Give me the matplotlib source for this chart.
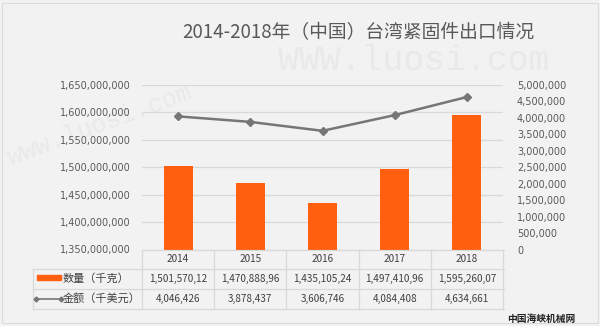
import matplotlib
matplotlib.use("Agg")
import matplotlib.pyplot as plt
from matplotlib.ticker import FuncFormatter, MultipleLocator
from matplotlib.transforms import blended_transform_factory
from matplotlib.lines import Line2D
from matplotlib.patches import Rectangle

# donnees
years = ['2014', '2015', '2016', '2017', '2018']
qty = [1501570120, 1470888960, 1435105240, 1497410960, 1595260070]
qty_labels = ['1,501,570,12', '1,470,888,96', '1,435,105,24', '1,497,410,96', '1,595,260,07']
amount = [4046426, 3878437, 3606746, 4084408, 4634661]
row_names = ['数量（千克）', '金额（千美元）']
title = '2014-2018年（中国）台湾紧固件出口情况'
source = '中国海峡机械网'
watermark = 'www.luosi.com'

W, H = 600, 326
bg = '#f2f2f2'
orange = '#ff5f0f'
gray_line = '#767676'
grid_c = '#d9d9d9'
txt_c = '#595959'
cjk = ['Noto Sans CJK SC', 'DejaVu Sans']

fig = plt.figure(figsize=(W / 100, H / 100), dpi=100, facecolor=bg)

def fx(x):
    return x / W

def fy(y):
    return 1 - y / H

# zone du graphe en pixels
L, R, T, B = 142, 503, 85, 249.5
ax = fig.add_axes([fx(L), fy(B), fx(R - L), (B - T) / H])
ax.set_facecolor('none')
ax2 = ax.twinx()

def ay(y):
    # pixel y -> coordonnee axes
    return (B - y) / (B - T)

def axx(x):
    return (x - L) / (R - L)

xs = list(range(len(years)))
ax.bar(xs, qty, width=0.4, color=orange, zorder=2)
ax.set_ylim(1350000000, 1650000000)
ax.set_xlim(-0.5, len(years) - 0.5)
ax.yaxis.set_major_locator(MultipleLocator(50000000))
ax.grid(axis='y', color=grid_c, lw=0.9, zorder=0)
ax.set_axisbelow(True)

ax2.plot(xs, amount, color=gray_line, lw=1.8, marker='D', ms=4, zorder=3)
ax2.set_ylim(0, 5000000)
ax2.yaxis.set_major_locator(MultipleLocator(500000))

fmt = FuncFormatter(lambda v, p: '{:,.0f}'.format(v))
for a, pad in ((ax, 8), (ax2, 10)):
    a.yaxis.set_major_formatter(fmt)
    a.tick_params(axis='y', length=0, pad=pad, labelsize=7, labelcolor=txt_c)
    a.set_xticks([])
    for s in a.spines.values():
        s.set_visible(False)

# tableau sous le graphe
tr = blended_transform_factory(ax.transData, ax.transAxes)
rows_y = [250, 269, 289, 309]
leg_left = 33
for y in rows_y:
    x0 = axx(L) if y == rows_y[0] else axx(leg_left)
    ax.plot([x0, 1.0025], [ay(y), ay(y)], transform=ax.transAxes, color=grid_c, lw=0.9, clip_on=False)
for i in range(len(years) + 1):
    ax.plot([i - 0.5, i - 0.5], [ay(rows_y[0]), ay(rows_y[-1])], transform=tr, color=grid_c, lw=0.9, clip_on=False)
ax.plot([axx(leg_left)] * 2, [ay(rows_y[1]), ay(rows_y[-1])], transform=ax.transAxes, color=grid_c, lw=0.9, clip_on=False)

cell_kw = dict(ha='center', va='center', fontsize=7.2, color='#404040', family=cjk)
for i, yr in enumerate(years):
    ax.text(i, ay(259.5), yr, transform=tr, **cell_kw)
    ax.text(i, ay(279), qty_labels[i], transform=tr, **cell_kw)
    ax.text(i, ay(299), '{:,}'.format(amount[i]), transform=tr, **cell_kw)

# legende dans la colonne de gauche
ax.text(axx(63), ay(278.5), row_names[0], transform=ax.transAxes, ha='left', va='center',
        fontsize=8, color='#404040', family=cjk)
ax.text(axx(63), ay(298.5), row_names[1], transform=ax.transAxes, ha='left', va='center',
        fontsize=8, color='#404040', family=cjk)
fig.add_artist(Rectangle((fx(37), fy(280)), fx(24), 5 / H, color=orange, transform=fig.transFigure))
fig.add_artist(Line2D([fx(36), fx(61)], [fy(298.5), fy(298.5)], color=gray_line, lw=1.2,
                      marker='D', ms=2.5, transform=fig.transFigure))

# titre, source, filigrane
fig.text(fx(358), fy(33), title, ha='center', va='center', fontsize=13.5, color=txt_c, family=cjk)
fig.text(fx(541), fy(319), source, ha='center', va='center', fontsize=7, color='#222222',
         fontweight='bold', family=cjk)
fig.text(fx(278), fy(61), watermark.upper()[:4] + watermark[4:], ha='left', va='center', fontsize=25,
         color='#e9e9e9', family='Liberation Mono', zorder=-5)
fig.text(fx(4), fy(125), watermark, ha='left', va='center', fontsize=18, rotation=20,
         color='#e9e9e9', family='Liberation Mono', zorder=-5)

fig.add_artist(Rectangle((fx(2), fy(323)), fx(596), 320 / H, fill=False, ec='#dcdcdc', lw=0.8,
                         transform=fig.transFigure))

fig.savefig('out.png', dpi=100, facecolor=bg)
